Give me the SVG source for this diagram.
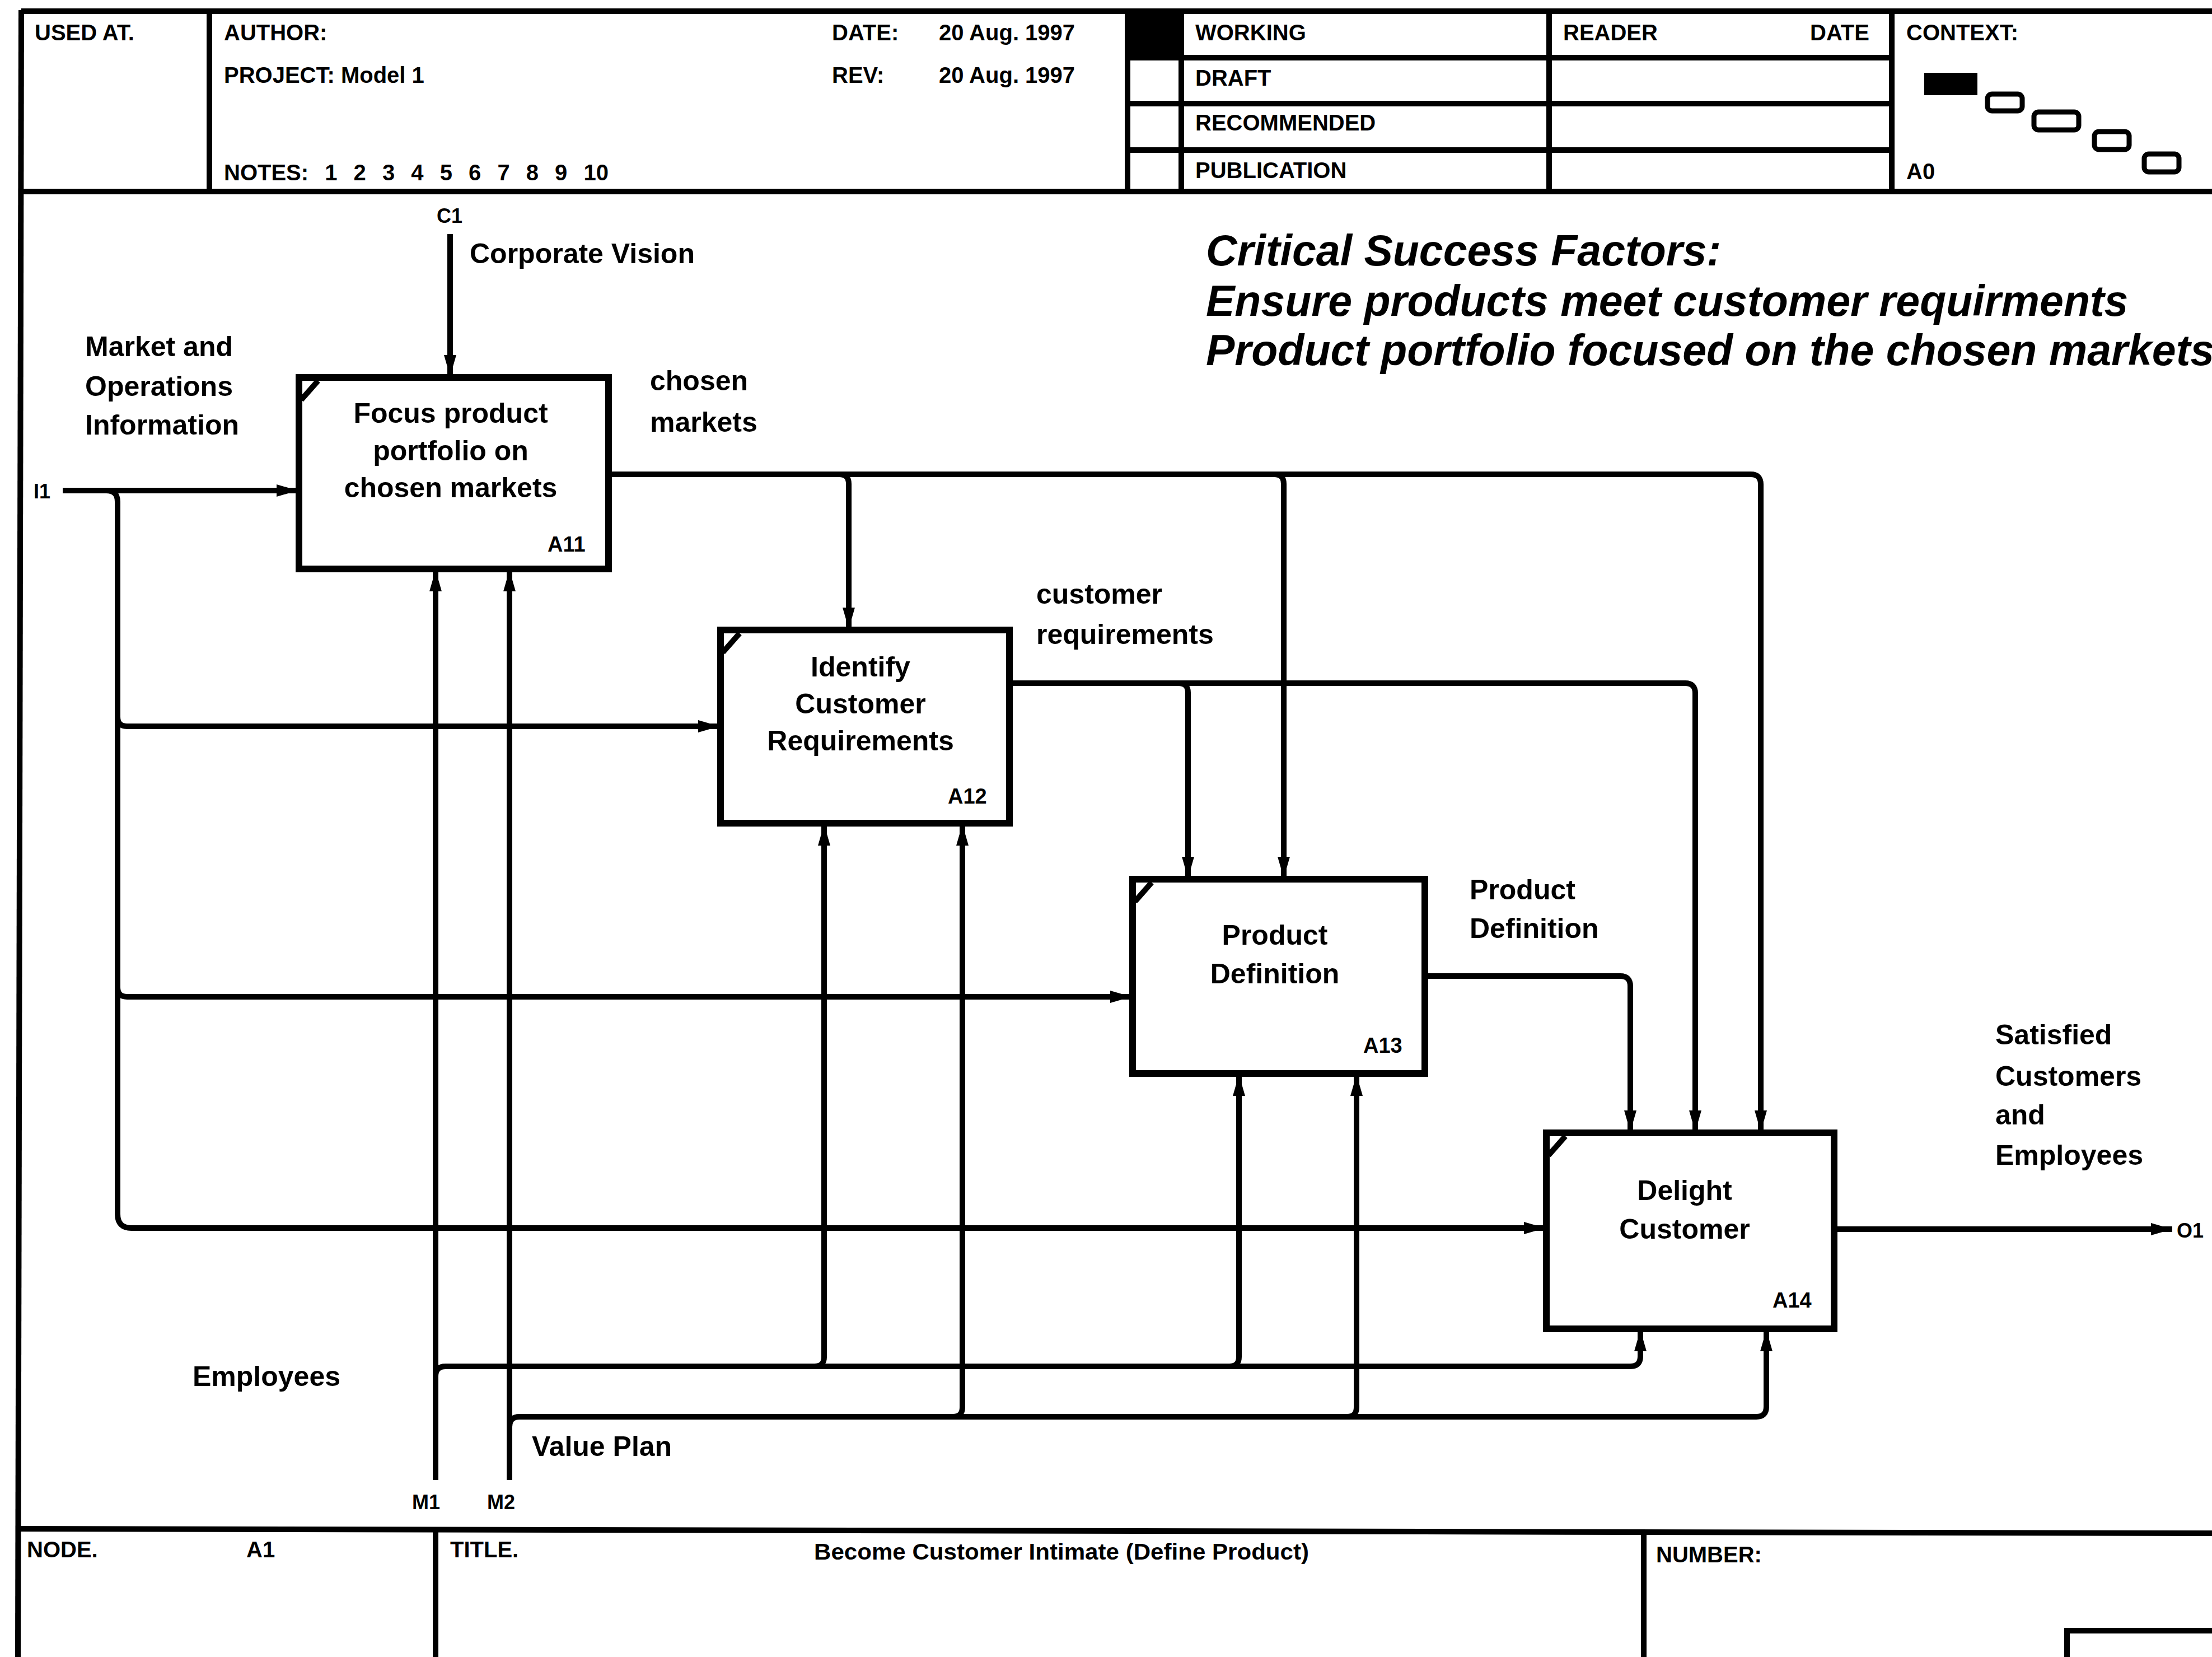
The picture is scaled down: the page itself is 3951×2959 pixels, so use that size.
<svg xmlns="http://www.w3.org/2000/svg" width="3951" height="2959" viewBox="0 0 3951 2959">
<style>
text{font-family:"Liberation Sans",Arial,sans-serif;font-weight:bold;fill:#000}
.hd{font-size:40px}
.lb{font-size:50px}
.bx{font-size:50px;text-anchor:middle}
.id{font-size:38px}
.sm{font-size:36px}
.csf{font-size:77px;font-style:italic}
.frame{stroke:#000;stroke-width:10;fill:none}
.box{stroke:#000;stroke-width:12;fill:#fff}
.cn{stroke:#000;stroke-width:10;fill:none}
.ar{stroke:#000;stroke-width:10;fill:none;marker-end:url(#ah)}
</style>
<defs>
<marker id="ah" markerUnits="userSpaceOnUse" markerWidth="44" markerHeight="26" refX="38" refY="11" orient="auto">
<path d="M0,0 L38,11 L0,22 z" fill="#000"/>
</marker>
</defs>
<rect width="3951" height="2959" fill="#fff"/>

<g id="frame">
<path class="frame" d="M38,20 H3951"/>
<path class="frame" d="M38,18 L32,2959"/>
<path class="frame" d="M36,342 H3951"/>
<path class="frame" d="M374,20 V342"/>
<path class="frame" d="M2014,20 V342 M2110,20 V342 M2767,20 V342 M3379,20 V342"/>
<path class="frame" d="M2014,103 H3379 M2014,185 H3379 M2014,268 H3379"/>
<rect x="2014" y="20" width="96" height="82" fill="#000"/>
<path class="frame" d="M32,2730 L3951,2738" stroke-width="12"/>
<path class="frame" d="M778,2730 V2959 M2936,2735 V2959"/>
<rect x="3692" y="2912" width="400" height="120" fill="none" stroke="#000" stroke-width="10"/>
<rect x="3437" y="130" width="95" height="40" fill="#000"/>
<rect x="3550" y="168" width="62" height="30" rx="8" fill="none" stroke="#000" stroke-width="9"/>
<rect x="3633" y="200" width="80" height="32" rx="8" fill="none" stroke="#000" stroke-width="9"/>
<rect x="3741" y="235" width="62" height="32" rx="8" fill="none" stroke="#000" stroke-width="9"/>
<rect x="3830" y="275" width="62" height="32" rx="8" fill="none" stroke="#000" stroke-width="9"/>
</g>

<g id="header-text">
<text class="hd" x="62" y="72">USED AT.</text>
<text class="hd" x="400" y="72">AUTHOR:</text>
<text class="hd" x="400" y="148">PROJECT:  Model 1</text>
<text class="hd" x="400" y="322" word-spacing="18">NOTES: 1 2 3 4 5 6 7 8 9 10</text>
<text class="hd" x="1486" y="72">DATE:</text>
<text class="hd" x="1677" y="72">20 Aug. 1997</text>
<text class="hd" x="1486" y="148">REV:</text>
<text class="hd" x="1677" y="148">20 Aug. 1997</text>
<text class="hd" x="2135" y="72">WORKING</text>
<text class="hd" x="2135" y="153">DRAFT</text>
<text class="hd" x="2135" y="233">RECOMMENDED</text>
<text class="hd" x="2135" y="318">PUBLICATION</text>
<text class="hd" x="2792" y="72">READER</text>
<text class="hd" x="3233" y="72">DATE</text>
<text class="hd" x="3405" y="72">CONTEXT:</text>
<text class="hd" x="3405" y="320">A0</text>
</g>

<g id="footer-text">
<text class="hd" x="48" y="2781">NODE.</text>
<text class="hd" x="440" y="2781">A1</text>
<text class="hd" x="804" y="2781">TITLE.</text>
<text class="hd" x="1454" y="2785" textLength="884" lengthAdjust="spacingAndGlyphs">Become Customer  Intimate (Define Product)</text>
<text class="hd" x="2958" y="2790">NUMBER:</text>
</g>

<g id="csf">
<text class="csf" x="2154" y="474">Critical Success Factors:</text>
<text class="csf" x="2154" y="564">Ensure products meet customer requirments</text>
<text class="csf" x="2154" y="652">Product portfolio focused on the chosen markets</text>
</g>

<g id="connectors">
<path class="ar" d="M804,418 V672"/>
<path class="ar" d="M112,876 H532"/>
<path class="cn" d="M190,876 Q210,876 210,896 V2168 Q210,2193 235,2193 H2700"/>
<path class="ar" d="M2690,2193 H2760"/>
<path class="ar" d="M210,1280 Q210,1297 227,1297 H1285"/>
<path class="ar" d="M210,1763 Q210,1780 227,1780 H2021"/>
<path class="cn" d="M1087,847 H3127 Q3145,847 3145,865 V2000"/>
<path class="ar" d="M3145,1990 V2021"/>
<path class="ar" d="M1499,847 Q1516,847 1516,864 V1123"/>
<path class="ar" d="M2276,847 Q2293,847 2293,864 V1568"/>
<path class="cn" d="M1803,1220 H3010 Q3028,1220 3028,1238 V2000"/>
<path class="ar" d="M3028,1990 V2021"/>
<path class="ar" d="M2105,1220 Q2122,1220 2122,1237 V1568"/>
<path class="cn" d="M2545,1743 H2894 Q2912,1743 2912,1761 V2000"/>
<path class="ar" d="M2912,1990 V2021"/>
<path class="ar" d="M3276,2195 H3880"/>
<path class="ar" d="M778,2643 V1018"/>
<path class="cn" d="M778,2458 Q778,2440 796,2440 H2912 Q2930,2440 2930,2422 V2400"/>
<path class="ar" d="M2930,2410 V2375"/>
<path class="ar" d="M1455,2440 Q1472,2440 1472,2423 V1472"/>
<path class="ar" d="M2196,2440 Q2213,2440 2213,2423 V1919"/>
<path class="ar" d="M910,2643 V1018"/>
<path class="cn" d="M910,2548 Q910,2530 928,2530 H3137 Q3155,2530 3155,2512 V2400"/>
<path class="ar" d="M3155,2410 V2375"/>
<path class="ar" d="M1702,2530 Q1719,2530 1719,2513 V1472"/>
<path class="ar" d="M2406,2530 Q2423,2530 2423,2513 V1919"/>
</g>

<g id="A11">
<rect class="box" x="534" y="674" width="553" height="342"/>
<path class="cn" d="M538,714 L568,680" stroke-width="8"/>
<text class="bx" x="805" y="755">Focus product</text>
<text class="bx" x="805" y="822">portfolio on</text>
<text class="bx" x="805" y="888">chosen markets</text>
<text class="id" x="978" y="985">A11</text>
</g>

<g id="A12">
<rect class="box" x="1287" y="1125" width="516" height="345"/>
<path class="cn" d="M1291,1165 L1321,1131" stroke-width="8"/>
<text class="bx" x="1537" y="1208">Identify</text>
<text class="bx" x="1537" y="1274">Customer</text>
<text class="bx" x="1537" y="1340">Requirements</text>
<text class="id" x="1693" y="1435">A12</text>
</g>

<g id="A13">
<rect class="box" x="2023" y="1570" width="522" height="347"/>
<path class="cn" d="M2027,1610 L2057,1576" stroke-width="8"/>
<text class="bx" x="2277" y="1687">Product</text>
<text class="bx" x="2277" y="1756">Definition</text>
<text class="id" x="2435" y="1880">A13</text>
</g>

<g id="A14">
<rect class="box" x="2762" y="2023" width="514" height="350"/>
<path class="cn" d="M2766,2063 L2796,2029" stroke-width="8"/>
<text class="bx" x="3009" y="2143">Delight</text>
<text class="bx" x="3009" y="2212">Customer</text>
<text class="id" x="3166" y="2335">A14</text>
</g>

<g id="labels">
<text class="sm" x="780" y="398">C1</text>
<text class="lb" x="839" y="470">Corporate Vision</text>
<text class="lb" x="152" y="636">Market and</text>
<text class="lb" x="152" y="707">Operations</text>
<text class="lb" x="152" y="776">Information</text>
<text class="sm" x="60" y="890">I1</text>
<text class="lb" x="1161" y="697">chosen</text>
<text class="lb" x="1161" y="771">markets</text>
<text class="lb" x="1851" y="1078">customer</text>
<text class="lb" x="1851" y="1150">requirements</text>
<text class="lb" x="2625" y="1606">Product</text>
<text class="lb" x="2625" y="1675">Definition</text>
<text class="lb" x="3564" y="1865">Satisfied</text>
<text class="lb" x="3564" y="1939">Customers</text>
<text class="lb" x="3564" y="2008">and</text>
<text class="lb" x="3564" y="2080">Employees</text>
<text class="sm" x="3888" y="2210">O1</text>
<text class="lb" x="344" y="2475">Employees</text>
<text class="lb" x="950" y="2600">Value Plan</text>
<text class="sm" x="736" y="2695">M1</text>
<text class="sm" x="870" y="2695">M2</text>
</g>
</svg>
